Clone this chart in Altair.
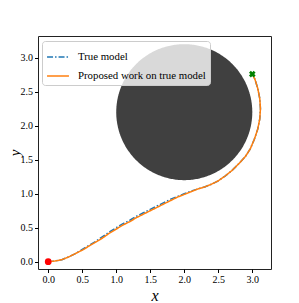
import altair as alt
import numpy as np
import pandas as pd

# Trajectory (proposed work on true model)
prop_x = [0.0, 0.1, 0.2, 0.3, 0.4, 0.5, 0.6, 0.7, 0.8, 0.9, 1.0, 1.1, 1.2, 1.3, 1.4, 1.5,
          1.6, 1.7, 1.8, 1.9, 2.0, 2.1, 2.2, 2.3, 2.4, 2.5, 2.6, 2.7, 2.8, 2.9, 2.97,
          3.03, 3.08, 3.11, 3.12, 3.11, 3.08, 3.04, 3.0]
prop_y = [0.0, 0.01, 0.03, 0.07, 0.12, 0.17, 0.23, 0.29, 0.35, 0.42, 0.48, 0.54, 0.59,
          0.65, 0.70, 0.75, 0.80, 0.85, 0.90, 0.95, 0.99, 1.03, 1.07, 1.10, 1.14, 1.19,
          1.26, 1.34, 1.44, 1.55, 1.66, 1.80, 1.95, 2.10, 2.25, 2.40, 2.55, 2.68, 2.76]
# True model trajectory (nearly identical, slightly higher mid-way)
true_x = prop_x
true_y = [0.0, 0.01, 0.03, 0.07, 0.12, 0.18, 0.24, 0.30, 0.37, 0.44, 0.50, 0.56, 0.61,
          0.67, 0.72, 0.77, 0.82, 0.87, 0.92, 0.96, 1.00, 1.04, 1.07, 1.10, 1.14, 1.19,
          1.26, 1.34, 1.44, 1.55, 1.66, 1.80, 1.95, 2.10, 2.25, 2.40, 2.55, 2.68, 2.76]

start = (0.0, 0.0)
goal = (3.0, 2.76)
obs_center = (2.0, 2.2)
obs_radius = 1.0
tick_values = [0, 0.5, 1, 1.5, 2, 2.5, 3]

series_names = ["True model", "Proposed work on true model"]
series_colors = ["#1f77b4", "#ff7f0e"]

rows = []
for i, (x, y) in enumerate(zip(true_x, true_y)):
    rows.append({"x": x, "y": y, "series": series_names[0], "o": i})
for i, (x, y) in enumerate(zip(prop_x, prop_y)):
    rows.append({"x": x, "y": y, "series": series_names[1], "o": i})
traj = pd.DataFrame(rows)

t = np.linspace(0, np.pi, 181)
cx = obs_center[0] + obs_radius * np.cos(t)
half = obs_radius * np.sin(t)
circ = pd.DataFrame({"x": cx, "ylo": obs_center[1] - half, "yhi": obs_center[1] + half})

xscale = alt.Scale(domain=[-0.15, 3.275], nice=False, zero=False)
yscale = alt.Scale(domain=[-0.107, 3.32], nice=False, zero=False)

serif = "Liberation Serif"
common = dict(values=tick_values, format=".1f", grid=False, tickSize=3.5, labelPadding=2,
              labelFont=serif, labelFontSize=10, labelColor="#000", tickColor="#000",
              domain=False, labelOverlap=False, titleFont=serif, titleFontStyle="italic",
              titleFontWeight="normal", titleColor="#000")
xaxis = alt.Axis(title="x", titlePadding=3, titleFontSize=16, **common)
yaxis = alt.Axis(title="y", titleX=-24, titleY=116.5, titleAlign="center", titleFontSize=15,
                 titleBaseline="middle", titleAngle=270, **common)

X = lambda f: alt.X(f, scale=xscale, axis=xaxis)
Y = lambda f: alt.Y(f, scale=yscale, axis=yaxis)

circle = alt.Chart(circ).mark_area(color="#404040", opacity=1, interpolate="linear").encode(
    x=X("x:Q"), y=Y("ylo:Q"), y2="yhi:Q",
)

lines = alt.Chart(traj).mark_line(strokeWidth=1.5).encode(
    x=X("x:Q"), y=Y("y:Q"),
    order="o:Q",
    color=alt.Color("series:N", scale=alt.Scale(domain=series_names, range=series_colors),
                    legend=alt.Legend(title=None, orient="none", legendX=4, legendY=5,
                                      symbolType="stroke", symbolSize=480, symbolStrokeWidth=1.5,
                                      labelFont=serif, labelFontSize=10.8, labelColor="#000",
                                      fillColor="rgba(255,255,255,0.8)", strokeColor="#cccccc",
                                      cornerRadius=3, padding=4, rowPadding=2,
                                      labelOffset=8)),
    strokeDash=alt.StrokeDash("series:N",
                              scale=alt.Scale(domain=series_names, range=[[6, 2, 1.5, 2], [1, 0]]),
                              legend=None),
)

pts = pd.DataFrame({"x": [start[0]], "y": [start[1]]})
start_mark = alt.Chart(pts).mark_point(filled=True, color="#ff0000", size=45, shape="circle", opacity=1).encode(
    x=X("x:Q"), y=Y("y:Q"))
gpts = pd.DataFrame({"x": [goal[0]], "y": [goal[1]]})
goal_mark = alt.Chart(gpts).mark_point(filled=True, color="#008000", size=45, shape="cross", angle=45, opacity=1).encode(
    x=X("x:Q"), y=Y("y:Q"))

chart = alt.layer(circle, lines, start_mark, goal_mark).properties(
    width=233, height=233,
    autosize=alt.AutoSizeParams(type="none"),
    padding={"left": 30, "top": 28, "right": 20, "bottom": 34},
    background="white",
).configure_view(stroke="#222", strokeWidth=1)

chart.save("out.html", embed_options={"renderer": "svg", "actions": False})
